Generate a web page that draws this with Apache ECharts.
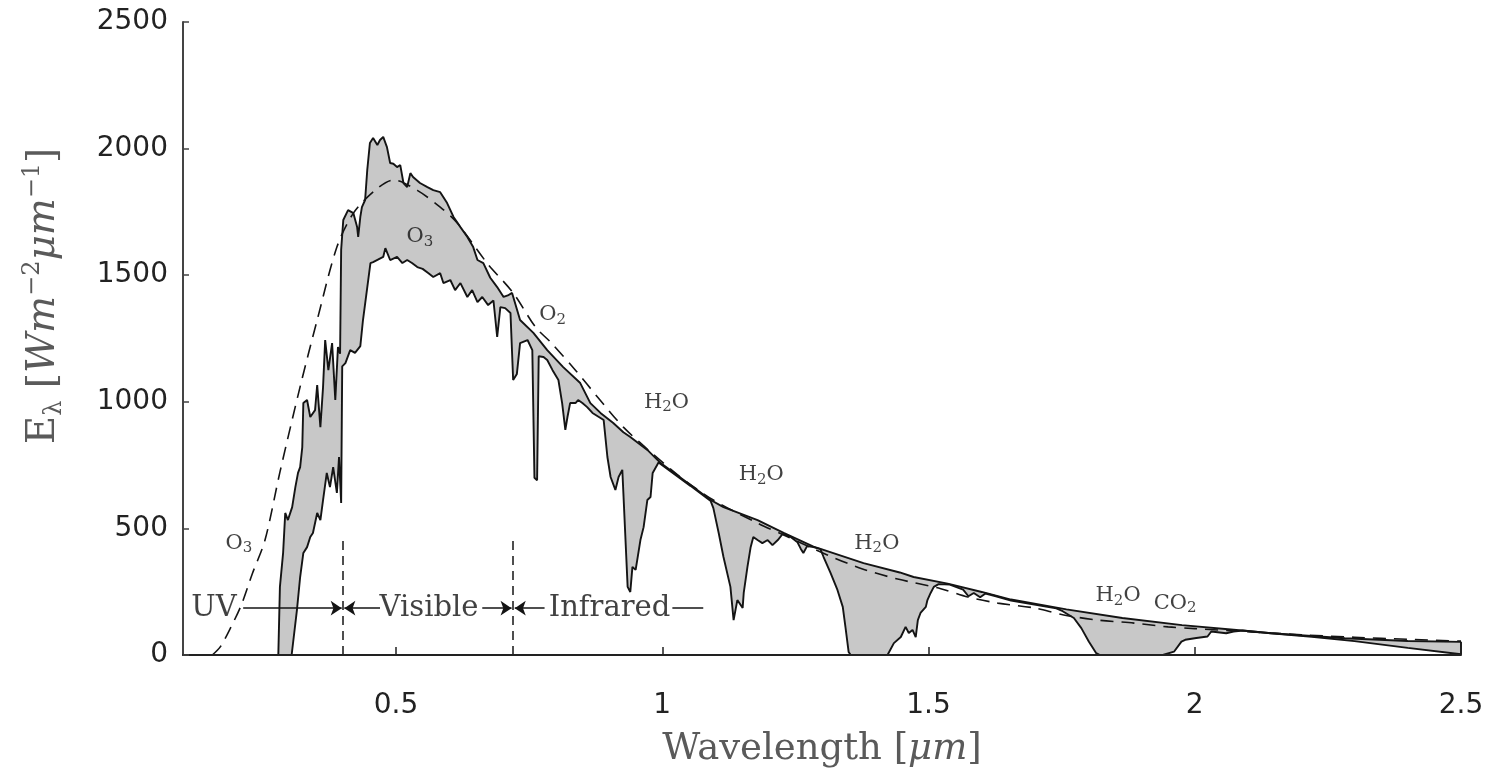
<!DOCTYPE html>
<html>
<head>
<meta charset="utf-8">
<title>Solar spectrum</title>
<script src="https://cdn.jsdelivr.net/npm/echarts@6/dist/echarts.min.js"></script>
<style>
  html, body { margin: 0; padding: 0; background: #fff; }
  #chart { width: 1499px; height: 774px; }
</style>
</head>
<body>
<div id="chart"></div>
<script>
// top of atmosphere spectrum (upper solid line)
const toaWl = [0.279, 0.282, 0.288, 0.292, 0.297, 0.305, 0.311, 0.316, 0.320, 0.324, 0.326, 0.333, 0.339, 0.348, 0.352,
  0.358, 0.363, 0.367, 0.373, 0.380, 0.386, 0.391, 0.395, 0.397, 0.401, 0.410, 0.420, 0.427, 0.429, 0.433,
  0.436, 0.442, 0.446, 0.451, 0.457, 0.465, 0.470, 0.476, 0.483, 0.489, 0.495, 0.502, 0.508, 0.514, 0.521,
  0.527, 0.532, 0.545, 0.559, 0.570, 0.583, 0.596, 0.608, 0.621, 0.634, 0.645, 0.653, 0.664, 0.677, 0.690,
  0.702, 0.710, 0.718, 0.733, 0.758, 0.784, 0.814, 0.846, 0.865, 0.884, 0.908, 0.927, 0.940, 0.972, 0.997,
  1.053, 1.091, 1.115, 1.179, 1.228, 1.284, 1.300, 1.378, 1.446, 1.472, 1.536, 1.600, 1.655, 1.759, 1.864,
  1.976, 2.073, 2.143, 2.282, 2.400, 2.500];
const toaE = [0, 269, 403, 561, 533, 584, 663, 719, 742, 821, 995, 1007, 940, 967, 1066,
  900, 1058, 1244, 1125, 1232, 1007, 1216, 1190, 1600, 1718, 1757, 1745, 1690, 1651, 1730,
  1769, 1797, 1915, 2022, 2042, 2014, 2034, 2046, 2006, 1943, 1940, 1927, 1935, 1864, 1848,
  1903, 1888, 1864, 1848, 1836, 1828, 1785, 1730, 1690, 1651, 1611, 1560, 1548, 1490, 1453,
  1414, 1420, 1430, 1323, 1272, 1204, 1137, 1074, 995, 956, 916, 880, 861, 810, 758,
  671, 612, 584, 533, 482, 428, 417, 363, 326, 308, 282, 249, 219, 180, 146,
  118, 100, 86, 66, 55, 52];

// sea level spectrum (lower solid line)
const surfWl = [0.304, 0.314, 0.320, 0.326, 0.333, 0.339, 0.344, 0.352, 0.358, 0.363, 0.370, 0.376, 0.382, 0.389, 0.393,
  0.397, 0.399, 0.405, 0.414, 0.423, 0.433, 0.438, 0.452, 0.457, 0.476, 0.480, 0.489, 0.502, 0.512, 0.521,
  0.530, 0.540, 0.550, 0.561, 0.570, 0.583, 0.589, 0.602, 0.611, 0.621, 0.634, 0.643, 0.653, 0.662, 0.673,
  0.683, 0.690, 0.696, 0.705, 0.715, 0.720, 0.727, 0.733, 0.747, 0.756, 0.760, 0.765, 0.768, 0.777, 0.784,
  0.794, 0.805, 0.812, 0.818, 0.822, 0.827, 0.837, 0.842, 0.850, 0.859, 0.869, 0.884, 0.890, 0.897, 0.903,
  0.912, 0.918, 0.925, 0.927, 0.935, 0.940, 0.944, 0.950, 0.953, 0.959, 0.965, 0.972, 0.978, 0.982, 0.993,
  1.053, 1.091, 1.096, 1.106, 1.115, 1.128, 1.134, 1.141, 1.151, 1.153, 1.160, 1.166, 1.171, 1.179, 1.188,
  1.198, 1.207, 1.217, 1.226, 1.240, 1.254, 1.260, 1.265, 1.272, 1.284, 1.297, 1.303, 1.316, 1.329, 1.339,
  1.344, 1.350, 1.354, 1.423, 1.435, 1.448, 1.457, 1.463, 1.470, 1.476, 1.480, 1.485, 1.495, 1.498, 1.504,
  1.510, 1.519, 1.540, 1.565, 1.575, 1.585, 1.597, 1.607, 1.625, 1.655, 1.740, 1.752, 1.773, 1.787, 1.801,
  1.815, 1.822, 1.940, 1.961, 1.975, 1.982, 2.003, 2.024, 2.031, 2.059, 2.073, 2.090, 2.143, 2.220, 2.300,
  2.400, 2.500];
const surfE = [0, 178, 308, 403, 426, 466, 482, 561, 533, 612, 719, 663, 742, 640, 782,
  600, 1140, 1153, 1204, 1193, 1220, 1323, 1548, 1552, 1572, 1607, 1560, 1572, 1548, 1560,
  1548, 1532, 1525, 1508, 1493, 1508, 1469, 1481, 1441, 1469, 1414, 1441, 1394, 1414, 1382,
  1400, 1256, 1374, 1370, 1351, 1086, 1110, 1232, 1244, 1204, 700, 690, 1180, 1177, 1165,
  1125, 1086, 995, 889, 940, 995, 995, 1007, 995, 979, 956, 936, 928, 782, 703,
  652, 703, 731, 640, 269, 249, 348, 336, 375, 454, 505, 612, 624, 719, 760,
  668, 608, 580, 482, 387, 269, 138, 217, 186, 245, 348, 426, 466, 454, 442,
  454, 434, 454, 478, 468, 445, 420, 403, 430, 426, 418, 387, 324, 257, 190,
  111, 12, 0, 0, 47, 71, 111, 87, 99, 71, 138, 166, 190, 217, 245,
  269, 280, 278, 258, 232, 245, 228, 243, 233, 215, 184, 173, 146, 106, 53,
  7, 0, 0, 13, 53, 60, 67, 73, 93, 86, 93, 97, 86, 72, 55,
  28, 3];

// black body curve (dashed)
const bbWl = [0.155, 0.170, 0.190, 0.210, 0.230, 0.254, 0.282, 0.320, 0.352, 0.389, 0.420, 0.461, 0.495, 0.540, 0.583,
  0.615, 0.671, 0.720, 0.762, 0.790, 0.837, 0.880, 0.927, 0.978, 1.034, 1.096, 1.179, 1.228, 1.310, 1.376,
  1.442, 1.523, 1.574, 1.630, 1.698, 1.754, 1.818, 1.886, 1.950, 2.000, 2.100, 2.200, 2.300, 2.400, 2.500];
const bbE = [0, 32, 110, 200, 320, 454, 722, 1060, 1323, 1611, 1745, 1836, 1876, 1835, 1769,
  1706, 1548, 1430, 1295, 1236, 1125, 1015, 900, 802, 703, 612, 521, 474, 395, 340,
  300, 262, 229, 205, 186, 158, 138, 126, 111, 104, 92, 80, 70, 62, 55];

// absorber labels
const gasText = ['O₃', 'O₂', 'H₂O', 'H₂O', 'H₂O', 'H₂O', 'CO₂', 'O₃'];
const gasWl = [0.545, 0.794, 1.008, 1.186, 1.403, 1.856, 1.963, 0.205];
const gasE = [1651, 1343, 999, 711, 442, 233, 205, 442];

// spectral regions
const regionText = ['UV', 'Visible', 'Infrared'];
const regionWl = [0.158, 0.562, 0.901];
const regionE = 185;
const regionBounds = [0.4, 0.72];
const boundTop = 470;

const xTicks = [0.5, 1, 1.5, 2, 2.5];

const zip = (a, b) => a.map((v, i) => [v, b[i]]);
const toaData = zip(toaWl, toaE);
const surfData = zip(surfWl, surfE);
const bbData = zip(bbWl, bbE);

// turn unicode subscript digits into rich-text tokens
const subDigits = { '₂': '2', '₃': '3' };
const richChem = s => s.replace(/[^₂₃]+/g, m => '{b|' + m + '}').replace(/[₂₃]/g, m => '{s|' + subDigits[m] + '}');

const chart = echarts.init(document.getElementById('chart'), null, { renderer: 'canvas' });

const ink = '#141414';
const serif = 'DejaVu Serif';
const titleGrey = '#5a5a5a';
const hidden = 'rgba(0,0,0,0)';

chart.setOption({
  animation: false,
  backgroundColor: '#fff',
  grid: { left: 183, right: 38, top: 22, bottom: 119, outerBoundsMode: 'none', containLabel: false },
  xAxis: {
    type: 'value',
    min: 0.1,
    max: 2.5,
    z: 10,
    name: '{n|Wavelength [}{i|μm}{n|]}',
    nameLocation: 'middle',
    nameGap: 76,
    nameTextStyle: {
      rich: {
        n: { fontFamily: serif, fontSize: 37, color: titleGrey },
        i: { fontFamily: serif, fontSize: 37, fontStyle: 'italic', color: titleGrey }
      }
    },
    axisLine: { lineStyle: { color: '#222', width: 2 } },
    axisTick: { inside: true, length: 8, customValues: xTicks, lineStyle: { color: '#222', width: 1.5 } },
    axisLabel: {
      customValues: xTicks,
      margin: 37,
      fontFamily: 'DejaVu Sans',
      fontSize: 28,
      color: '#222'
    },
    splitLine: { show: false }
  },
  yAxis: {
    type: 'value',
    min: 0,
    max: 2500,
    interval: 500,
    z: 10,
    axisLine: { show: true, lineStyle: { color: '#444', width: 2 } },
    axisTick: { show: true, inside: true, length: 6, lineStyle: { color: '#444', width: 1.5 } },
    axisLabel: {
      margin: 15,
      fontFamily: 'DejaVu Sans',
      fontSize: 28,
      color: '#222',
      formatter: v => String(v)
    },
    splitLine: { show: false }
  },
  graphic: [{
    type: 'text',
    x: 44,
    y: 296,
    rotation: Math.PI / 2,
    style: {
      text: '{n|E}{sub|λ}{n| [}{i|Wm}{sup|−2}{i|μm}{sup|−1}{n|]}',
      align: 'center',
      verticalAlign: 'middle',
      rich: {
        n: { fontFamily: serif, fontSize: 39, fill: titleGrey, lineHeight: 54, verticalAlign: 'middle' },
        i: { fontFamily: serif, fontSize: 39, fontStyle: 'italic', fill: titleGrey, lineHeight: 54, verticalAlign: 'middle' },
        sub: { fontFamily: serif, fontSize: 24, fill: titleGrey, lineHeight: 54, verticalAlign: 'bottom', padding: [0, 0, 4, 0] },
        sup: { fontFamily: serif, fontSize: 24, fill: titleGrey, lineHeight: 54, verticalAlign: 'top', padding: [4, 0, 0, 0] }
      }
    }
  }],
  series: [
    {
      // grey fill under top-of-atmosphere curve
      type: 'line',
      data: toaData,
      symbol: 'none',
      silent: true,
      z: 1,
      lineStyle: { width: 0 },
      areaStyle: { color: '#c8c8c8', opacity: 1 }
    },
    {
      // white mask under sea-level curve
      type: 'line',
      data: surfData,
      symbol: 'none',
      silent: true,
      z: 2,
      lineStyle: { width: 0 },
      areaStyle: { color: '#ffffff', opacity: 1 }
    },
    {
      type: 'line',
      data: bbData,
      symbol: 'none',
      smooth: 0.3,
      silent: true,
      z: 3,
      lineStyle: { color: ink, width: 1.6, type: [13, 8] }
    },
    {
      type: 'line',
      data: toaData,
      symbol: 'none',
      silent: true,
      z: 4,
      lineStyle: { color: ink, width: 1.9 },
      markLine: {
        silent: true,
        symbol: 'none',
        label: { show: false },
        lineStyle: { color: ink, width: 1.9, type: 'solid' },
        data: [[
          { coord: [toaWl[toaWl.length - 1], surfE[surfE.length - 1]] },
          { coord: [toaWl[toaWl.length - 1], toaE[toaE.length - 1]] }
        ]]
      }
    },
    {
      type: 'line',
      data: surfData,
      symbol: 'none',
      silent: true,
      z: 4,
      lineStyle: { color: ink, width: 1.9 }
    },
    {
      // gas labels + region boundaries
      type: 'scatter',
      symbolSize: 1,
      silent: true,
      z: 5,
      itemStyle: { color: hidden },
      data: gasText.map((t, i) => ({ name: t, value: [gasWl[i], gasE[i]] })),
      label: {
        show: true,
        position: 'inside',
        formatter: p => richChem(p.name),
        rich: {
          b: { fontFamily: serif, fontSize: 21, color: '#111', lineHeight: 28, verticalAlign: 'middle' },
          s: { fontFamily: serif, fontSize: 15, color: '#111', lineHeight: 28, verticalAlign: 'bottom', padding: [0, 0, 1, 0] }
        }
      },
      markLine: {
        silent: true,
        symbol: 'none',
        label: { show: false },
        lineStyle: { color: ink, width: 1.5, type: [9, 6] },
        data: regionBounds.map(b => [{ coord: [b, 0] }, { coord: [b, boundTop] }])
      }
    },
    {
      // UV / Visible / Infrared labels with arrows
      type: 'scatter',
      symbolSize: 1,
      silent: true,
      z: 5,
      itemStyle: { color: hidden },
      data: regionText.map((t, i) => ({ name: t, value: [regionWl[i], regionE] })),
      label: {
        show: true,
        position: 'inside',
        formatter: '{b}',
        fontFamily: serif,
        fontSize: 29,
        color: '#111'
      },
      markLine: {
        silent: true,
        symbolSize: 11,
        label: { show: false },
        lineStyle: { color: ink, width: 1.5, type: 'solid' },
        data: [
          [{ coord: [0.213, regionE], symbol: 'none' }, { coord: [0.398, regionE], symbol: 'arrow' }],
          [{ coord: [0.403, regionE], symbol: 'arrow' }, { coord: [0.470, regionE], symbol: 'none' }],
          [{ coord: [0.662, regionE], symbol: 'none' }, { coord: [0.717, regionE], symbol: 'arrow' }],
          [{ coord: [0.723, regionE], symbol: 'arrow' }, { coord: [0.779, regionE], symbol: 'none' }],
          [{ coord: [1.019, regionE], symbol: 'none' }, { coord: [1.077, regionE], symbol: 'none' }]
        ]
      }
    }
  ]
});
</script>
</body>
</html>
